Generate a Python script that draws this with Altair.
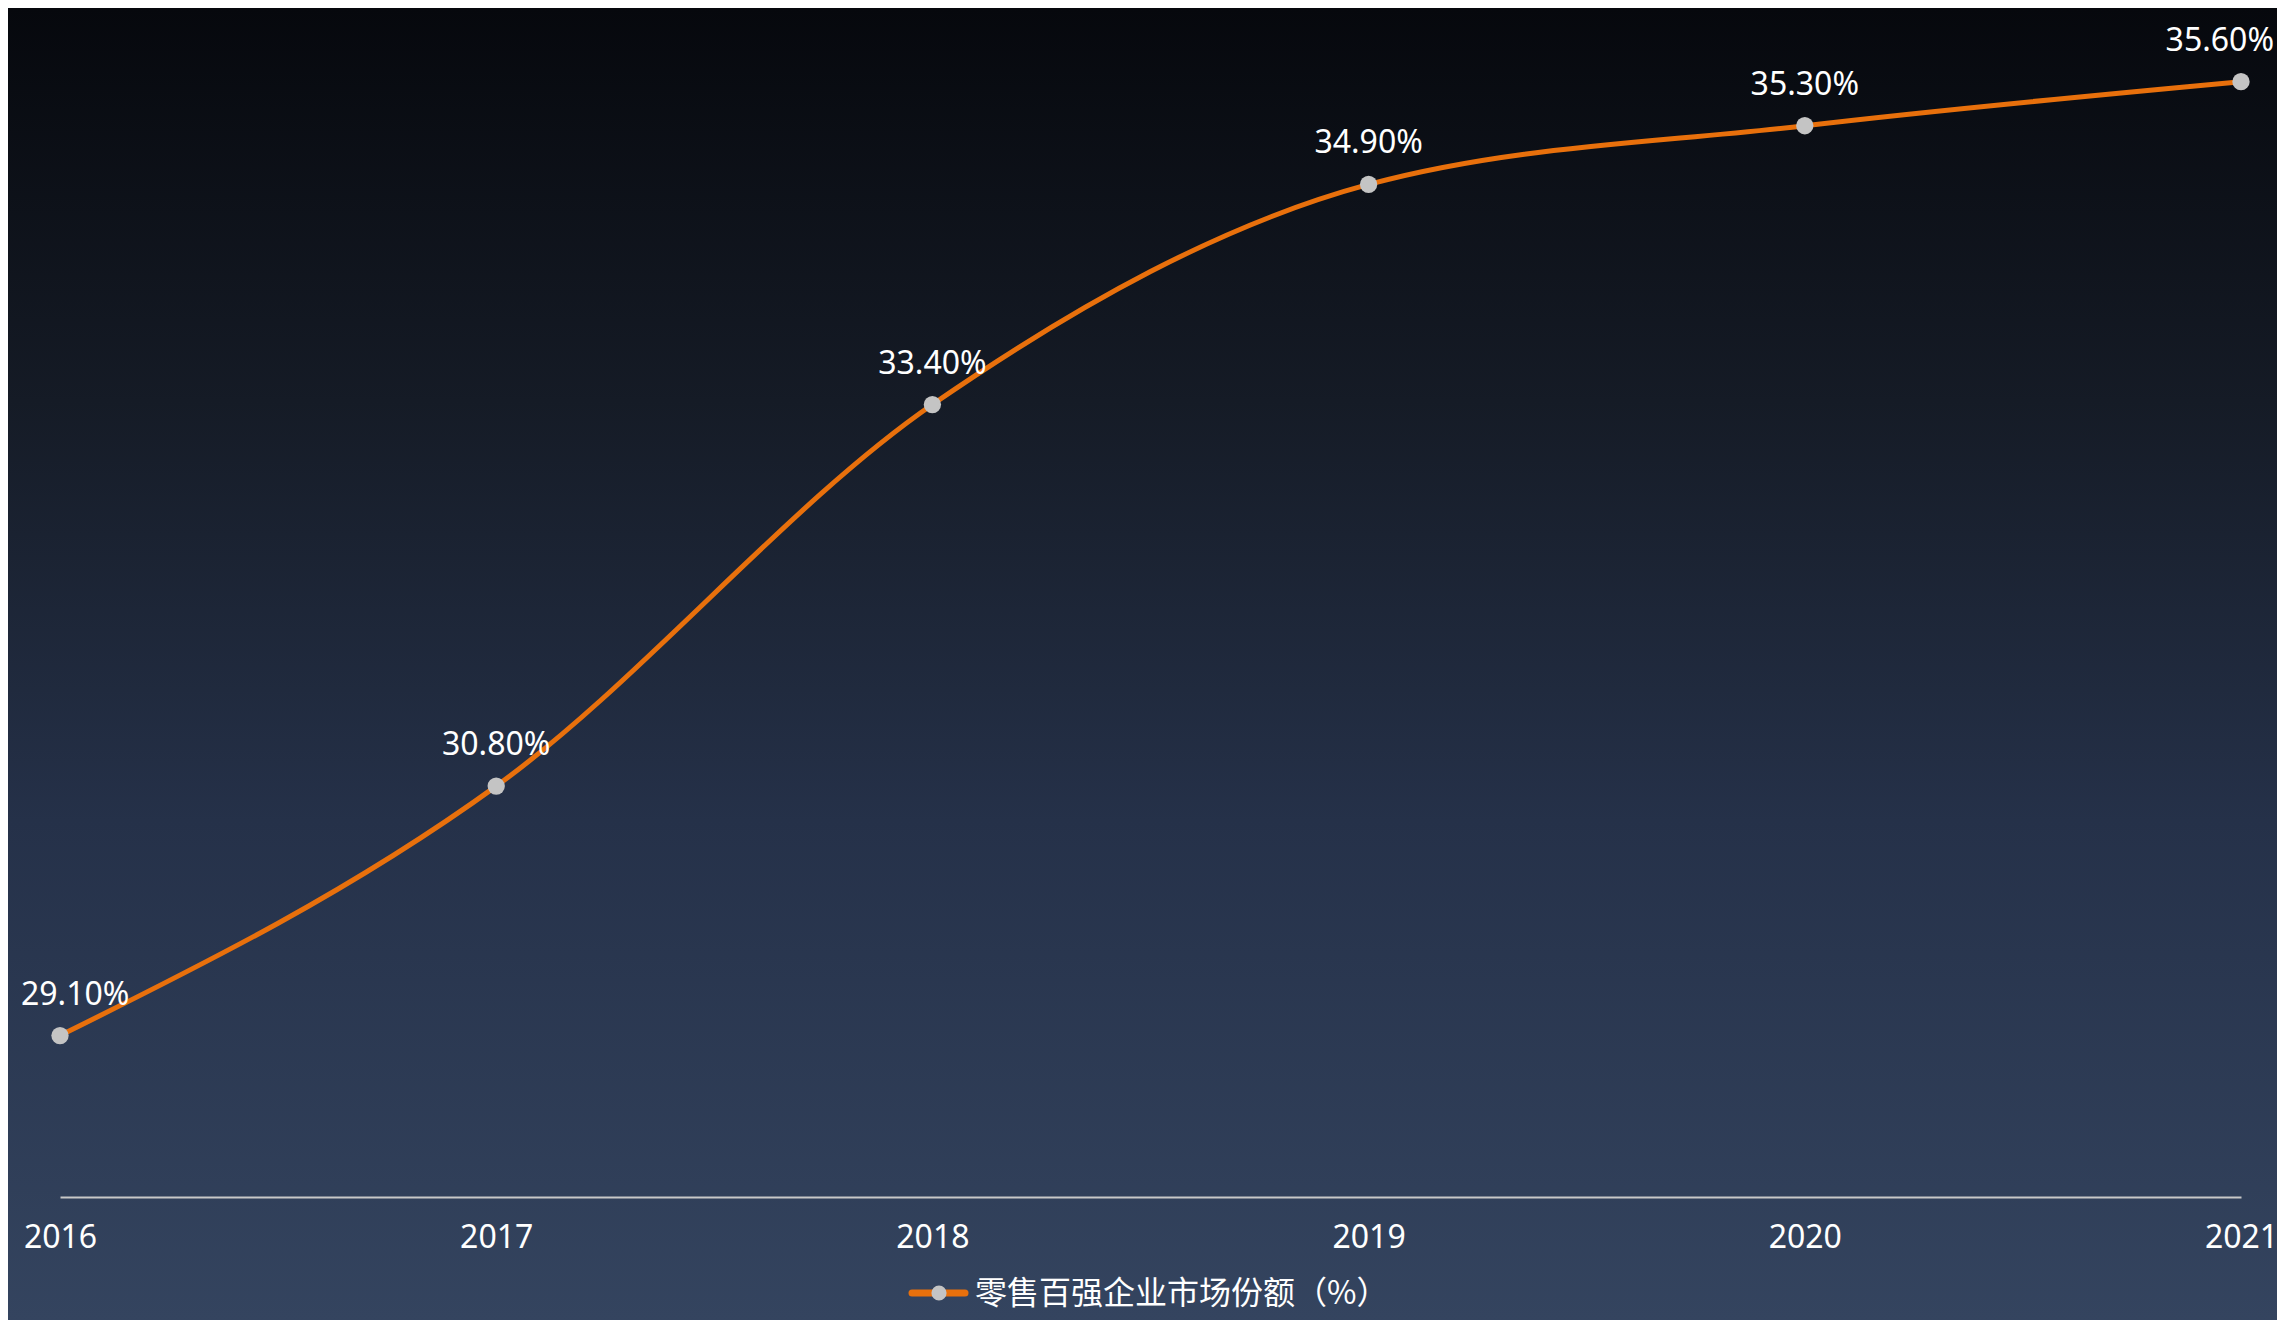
import altair as alt
import pandas as pd

years = ["2016", "2017", "2018", "2019", "2020", "2021"]
share = [29.1, 30.8, 33.4, 34.9, 35.3, 35.6]
labels = ["29.10%", "30.80%", "33.40%", "34.90%", "35.30%", "35.60%"]
series_name = "零售百强企业市场份额（%）"

df = pd.DataFrame({"year": years, "share": share, "label": labels})

W, H = 2181, 1174
PL, PT, PR, PB = 52, 15, 36, 123
FONT = "Noto Sans, Noto Sans CJK SC, sans-serif"
ORANGE = "#e8700c"
GREY = "#c4c4c4"

x = alt.X("year:O", scale=alt.Scale(padding=0),
          axis=alt.Axis(title=None, labelAngle=0, ticks=False, domainColor="#c8c8c8",
                        domainWidth=2, labelColor="#ffffff", labelFontSize=32,
                        labelFont=FONT, labelPadding=25, grid=False, zindex=1))
y = alt.Y("share:Q", scale=alt.Scale(domain=[28, 36], zero=False, nice=False), axis=None)

base = alt.Chart(df)

bg = alt.Chart(pd.DataFrame({"a": [0]})).mark_rect(
    clip=False,
    fill=alt.Gradient(gradient="linear", x1=0, y1=0, x2=0, y2=1,
                      stops=[alt.GradientStop(color="#06080d", offset=0),
                             alt.GradientStop(color="#151b26", offset=0.3),
                             alt.GradientStop(color="#253149", offset=0.62),
                             alt.GradientStop(color="#34445f", offset=1)])
).encode(x=alt.value(-PL), x2=alt.value(W + PR), y=alt.value(-PT), y2=alt.value(H + PB))

line = base.mark_line(color=ORANGE, strokeWidth=5, interpolate="monotone").encode(x=x, y=y)
pts = base.mark_circle(color=GREY, opacity=1, size=300).encode(x=x, y=y)

txt_common = dict(color="#ffffff", fontSize=32, font=FONT, baseline="alphabetic", dy=-31)
txt_mid = base.transform_filter(
    (alt.datum.year != years[0]) & (alt.datum.year != years[-1])
).mark_text(align="center", **txt_common).encode(x=x, y=y, text="label:N")
txt_first = base.transform_filter(alt.datum.year == years[0]).mark_text(
    align="left", dx=-39, **txt_common).encode(x=x, y=y, text="label:N")
txt_last = base.transform_filter(alt.datum.year == years[-1]).mark_text(
    align="right", dx=33, **txt_common).encode(x=x, y=y, text="label:N")

leg_df = pd.DataFrame({"name": [series_name]})
leg_y = 1270
leg_line = alt.Chart(leg_df).mark_rule(color=ORANGE, strokeWidth=7, strokeCap="round").encode(
    x=alt.value(852), x2=alt.value(905), y=alt.value(leg_y))
leg_pt = alt.Chart(leg_df).mark_circle(color=GREY, opacity=1, size=230).encode(
    x=alt.value(879), y=alt.value(leg_y))
leg_txt = alt.Chart(leg_df).mark_text(
    align="left", baseline="middle", color="#ffffff", fontSize=32, font="Noto Sans CJK SC"
).encode(x=alt.value(915), y=alt.value(leg_y + 1), text="name:N")

chart = alt.layer(bg, line, pts, txt_mid, txt_first, txt_last, leg_line, leg_pt, leg_txt).properties(
    width=W, height=H,
    autosize=alt.AutoSizeParams(type="none"),
    padding={"left": PL, "top": PT, "right": PR, "bottom": PB},
    background="#1d2535",
).configure_view(stroke=None)

chart.save("out.html", embed_options={"renderer": "svg", "actions": False})
